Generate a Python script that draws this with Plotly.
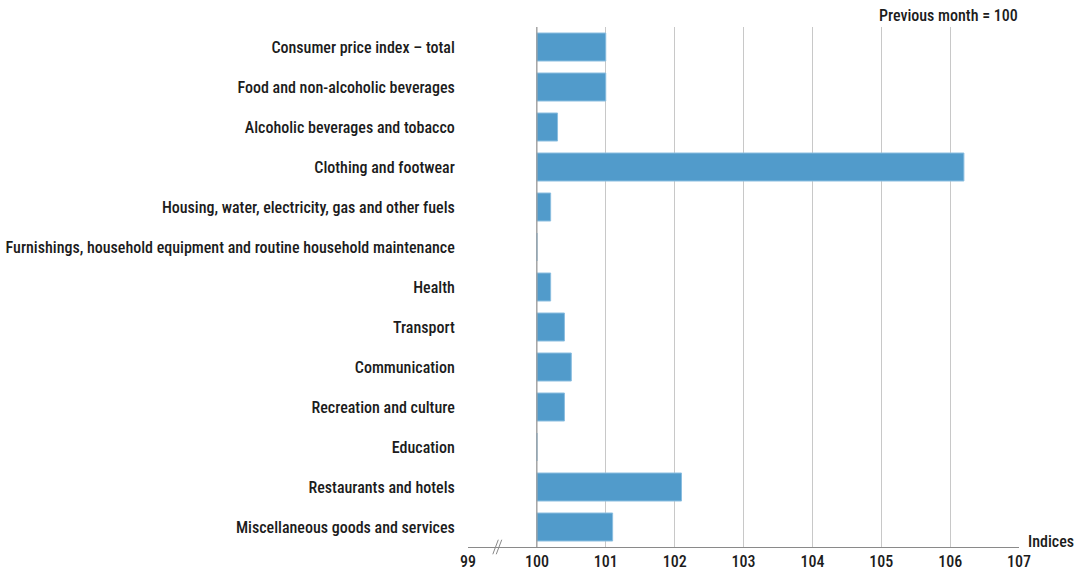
import plotly.graph_objects as go

categories = [
    "Consumer price index – total",
    "Food and non-alcoholic beverages",
    "Alcoholic beverages and tobacco",
    "Clothing and footwear",
    "Housing, water, electricity, gas and other fuels",
    "Furnishings, household equipment and routine household maintenance",
    "Health",
    "Transport",
    "Communication",
    "Recreation and culture",
    "Education",
    "Restaurants and hotels",
    "Miscellaneous goods and services",
]
values = [101.0, 101.0, 100.3, 106.2, 100.2, 100.0, 100.2, 100.4, 100.5, 100.4, 100.0, 102.1, 101.1]
base_value = 100
tick_vals = [99, 100, 101, 102, 103, 104, 105, 106, 107]

FONT = "Roboto Condensed, Liberation Sans Narrow, Arial Narrow, Roboto, sans-serif"

fig = go.Figure()
fig.add_trace(go.Bar(
    y=categories,
    x=[v - base_value for v in values],
    base=base_value,
    orientation="h",
    marker=dict(color="#519BCB", line=dict(color="#8BBEE0", width=1)),
    hoverinfo="skip",
))

fig.update_layout(
    width=1076, height=574,
    margin=dict(l=468, r=57, t=27, b=27),
    paper_bgcolor="white", plot_bgcolor="white",
    font=dict(family=FONT, size=16, color="#1c1c1c", weight=500),
    showlegend=False,
    bargap=0.3,
    xaxis=dict(
        range=[99, 107], tickvals=tick_vals, ticktext=[str(t) for t in tick_vals],
        showgrid=True, gridcolor="#c8c8c8", gridwidth=1.2,
        showline=True, linecolor="#8a8a8a", linewidth=1.2,
        zeroline=False, ticks="", tickfont=dict(size=16), automargin=False,
    ),
    yaxis=dict(
        autorange="reversed", showgrid=False, showline=False, zeroline=False,
        ticks="outside", ticklen=9, tickcolor="rgba(0,0,0,0)", automargin=False,
    ),
)

# darker base line at 100
fig.add_shape(type="line", xref="x", yref="paper", x0=100, x1=100, y0=0, y1=1,
              line=dict(color="#9a9a9a", width=1.2))
# axis break marks
for dx in (0.0, 0.05):
    fig.add_shape(type="line", xref="x", yref="paper",
                  x0=99.36 + dx, x1=99.44 + dx, y0=-0.014, y1=0.014,
                  line=dict(color="#8a8a8a", width=1))

fig.add_annotation(text="Previous month = 100", xref="paper", yref="paper",
                   x=1, y=1, xanchor="right", yanchor="bottom", yshift=0, xshift=1,
                   showarrow=False, font=dict(size=16))
fig.add_annotation(text="Indices", xref="paper", yref="paper",
                   x=1, y=0, xanchor="left", yanchor="bottom", xshift=7, yshift=-6,
                   showarrow=False, font=dict(size=16))

fig.write_html("out.html", config={"displayModeBar": False},
               post_script="document.body.style.margin='0';document.body.style.overflow='hidden';")
